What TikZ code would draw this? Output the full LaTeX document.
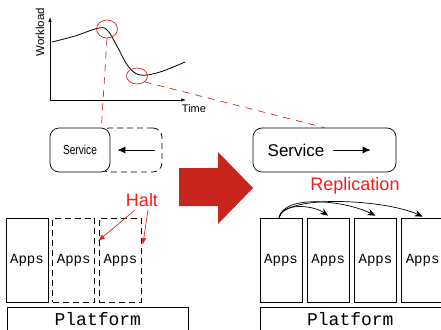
\documentclass[tikz,border=0pt]{standalone}
\usepackage{fontspec}
\setsansfont{Liberation Sans}
\setmonofont{Liberation Mono}
\usetikzlibrary{arrows.meta,positioning,calc,shapes.geometric}

\definecolor{alertred}{RGB}{245,28,32}
\definecolor{markred}{RGB}{212,36,36}
\definecolor{bigred}{RGB}{201,37,31}

\begin{document}
\begin{tikzpicture}[x=1pt,y=-1pt,>={Latex[length=8pt,width=7pt]},line width=0.7pt,node distance=4.5pt,
    apps/.style={draw,minimum width=42pt,minimum height=84pt,inner sep=0pt,
      font=\fontsize{14}{14}\ttfamily},
    ghost/.style={apps,dashed,dash pattern=on 6pt off 4pt},
    plat/.style={draw,minimum height=24pt,inner sep=0pt,font=\fontsize{18}{18}\ttfamily},
    svc/.style={draw,rounded corners=9pt,minimum height=44pt,inner sep=0pt},
    ring/.style={ellipse,draw=markred,line width=0.7pt,inner sep=0pt},
    link/.style={draw=markred,dashed,dash pattern=on 7pt off 6pt,line width=0.7pt},
    say/.style={text=alertred,font=\fontsize{18}{18}\sffamily,inner sep=0pt},
    copy/.style={->,>={Stealth[length=8pt,width=6.5pt]}}]
  \useasboundingbox (0,0) rectangle (441,329);

  % workload over time
  \draw[-{Latex[length=5pt,width=3.5pt]}] (50,100) -- (50,17);
  \draw[-{Latex[length=5pt,width=3.5pt]}] (50,100) -- (186,100);
  \node[rotate=90,font=\fontsize{11.5}{11.5}\sffamily,inner sep=0pt] (ylab) at (40,32) {Workload};
  \node[font=\fontsize{11}{11}\sffamily,inner sep=0pt] (xlab) at (194,109) {Time};
  \draw[line width=0.8pt] plot[smooth,tension=0.6] coordinates
    {(52,42) (75,36) (99,28) (108,31) (118,48) (128,66) (140,75) (160,72) (185,62)};
  \node[ring,minimum width=21pt,minimum height=18pt] (peak) at (107,29) {};
  \node[ring,minimum width=21pt,minimum height=16pt] (trough) at (137,76) {};

  % scaling in
  \node[svc,dashed,dash pattern=on 6pt off 4pt,minimum width=62pt] (lghost) at (131,150) {};
  \node[svc,fill=white,minimum width=60pt,font=\fontsize{13}{13}\sffamily] (lsvc) at (80,150)
    {\scalebox{0.78}[1]{Service}};
  \draw[->,line width=0.9pt] ($(lghost.east)+(-7,0)$) -- ($(lsvc.east)+(7,0)$);
  \coordinate (lhook) at ($(lsvc.north east)+(-9,0)$);

  \node[apps] (l1) at (27,260) {Apps};
  \node[ghost,right=4pt of l1] (l2) {Apps};
  \node[ghost,right=4pt of l2] (l3) {Apps};
  \node[plat,anchor=north west,minimum width=181pt] (lplat) at (7,307) {Platform};

  \node[say] (halt) at (142,200) {Halt};
  \draw[-{Latex[length=7pt,width=5pt]},alertred] ($(halt.south)+(-7,3)$) -- ($(l3.west)+(-1,-19)$);
  \draw[-{Latex[length=7pt,width=5pt]},alertred] ($(halt.south)+(6,3)$) -- ($(l3.east)+(1,-15)$);

  % the big arrow
  \fill[bigred] (179,168) -- (218,168) -- (218,152) -- (253,188) -- (218,224)
    -- (218,206) -- (179,206) -- cycle;

  % scaling out
  \node[svc,minimum width=143pt] (rsvc) at (324.5,150) {};
  \node[font=\fontsize{17}{17}\sffamily,inner sep=0pt] (rtxt) at (296,150) {Service};
  \draw[->,line width=0.9pt] ($(rtxt.east)+(8,0)$) -- +(38,0);

  \node[apps] (r1) at (281,260) {Apps};
  \node[apps,right=of r1] (r2) {Apps};
  \node[apps,right=of r2] (r3) {Apps};
  \node[apps,right=of r3] (r4) {Apps};
  \node[plat,anchor=north west,minimum width=190pt] (rplat) at (260,307) {\hspace*{-2pt}Platform\hspace*{8pt}};

  \node[say] (repl) at (355,186) {Replication};
  \draw[copy] ($(r1.north)+(-2,0)$) .. controls +(3,-15) and +(-16,-11) .. ($(r2.north)+(0,-2)$);
  \draw[copy] ($(r1.north)+(-2,0)$) .. controls +(5,-24) and +(-30,-15) .. ($(r3.north)+(0,-2)$);
  \draw[copy] ($(r1.north)+(-2,0)$) .. controls +(6,-24) and +(-36,-17) .. ($(r4.north)+(0,-1)$);

  % where the two points of the curve end up
  \draw[link] (peak.south) -- (lhook);
  \draw[link] (trough.south east) -- (rsvc.north);
\end{tikzpicture}
\end{document}
